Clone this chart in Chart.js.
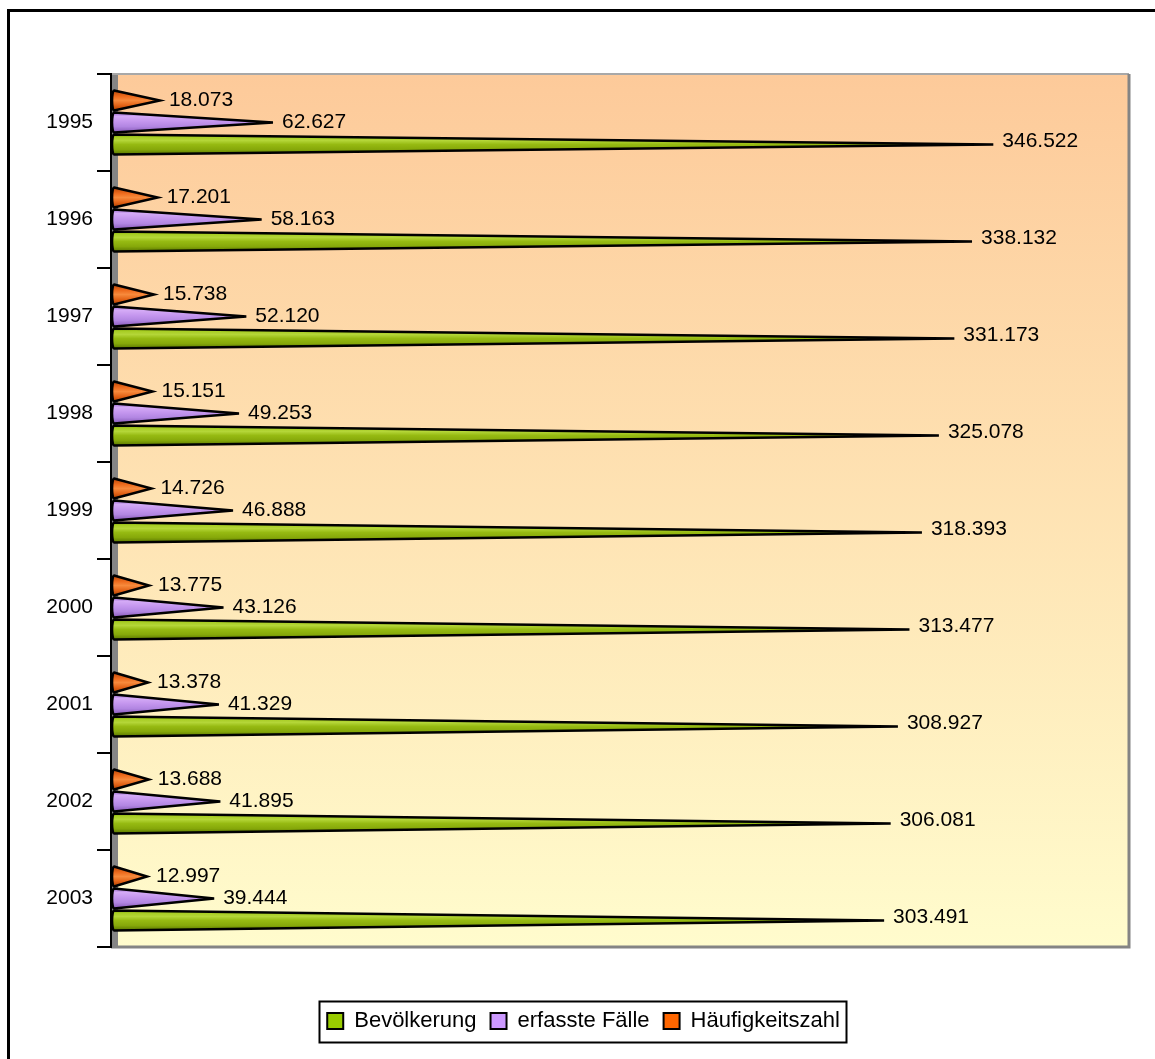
<!DOCTYPE html>
<html>
<head>
<meta charset="utf-8">
<script src="https://cdn.jsdelivr.net/npm/chart.js@4.4.1/dist/chart.umd.min.js"></script>
<style>
  html, body { margin: 0; padding: 0; background: #fff; }
  #wrap { width: 1155px; height: 1059px; }
</style>
</head>
<body>
<div id="wrap"><canvas id="chart" width="1155" height="1059"></canvas></div>
<script>
// Daten
const jahre = ['1995', '1996', '1997', '1998', '1999', '2000', '2001', '2002', '2003'];
const bevoelkerung = [346522, 338132, 331173, 325078, 318393, 313477, 308927, 306081, 303491];
const erfassteFaelle = [62627, 58163, 52120, 49253, 46888, 43126, 41329, 41895, 39444];
const haeufigkeitszahl = [18073, 17201, 15738, 15151, 14726, 13775, 13378, 13688, 12997];
// Achse beginnt knapp links von 0 (Platz für die Seitenwand)
const xMin = -1200;
const xMax = 400000;

const schrift = '"Liberation Sans", Arial, sans-serif';

// Farbverläufe der Kegel (Index = Dataset)
const kegelVerlauf = [
  [[0, '#b84606'], [0.3, '#ee6c1e'], [0.5, '#f78a3c'], [0.75, '#e26216'], [1, '#a83e00']],
  [[0, '#9a6acc'], [0.2, '#d4aaf6'], [0.45, '#c496ee'], [0.7, '#b286e2'], [1, '#8658b8']],
  [[0, '#6c8c00'], [0.12, '#a6cc22'], [0.3, '#b4d638'], [0.5, '#96ba12'], [0.75, '#86a80a'], [1, '#5a7600']]
];

function tausender(v) {
  return String(v).replace(/\B(?=(\d{3})+(?!\d))/g, '.');
}

const kegelPlugin = {
  id: 'kegel',
  beforeDraw(chart) {
    const { ctx, chartArea: a } = chart;
    ctx.save();
    ctx.fillStyle = '#fff';
    ctx.fillRect(0, 0, chart.width, chart.height);

    const bg = ctx.createLinearGradient(0, a.top, 0, a.bottom);
    bg.addColorStop(0, '#fdca9a');
    bg.addColorStop(1, '#fffccd');
    ctx.fillStyle = bg;
    ctx.fillRect(a.left, a.top, a.right - a.left, a.bottom - a.top);

    // Seitenwand
    ctx.fillStyle = '#858585';
    ctx.fillRect(a.left, a.top, 7, a.bottom - a.top);

    // Rahmen der Zeichenfläche
    ctx.strokeStyle = '#a8a8a8';
    ctx.lineWidth = 2;
    ctx.beginPath();
    ctx.moveTo(a.left, a.top);
    ctx.lineTo(a.right, a.top);
    ctx.stroke();
    ctx.strokeStyle = '#848484';
    ctx.lineWidth = 3;
    ctx.beginPath();
    ctx.moveTo(a.right, a.top);
    ctx.lineTo(a.right, a.bottom);
    ctx.lineTo(a.left, a.bottom);
    ctx.stroke();

    // äußerer Rahmen
    ctx.strokeStyle = '#000';
    ctx.lineWidth = 3;
    ctx.beginPath();
    ctx.moveTo(8.5, chart.height);
    ctx.lineTo(8.5, 10.5);
    ctx.lineTo(chart.width, 10.5);
    ctx.stroke();
    ctx.restore();
  },
  beforeDatasetDraw(chart, args) {
    const ctx = chart.ctx;
    const stops = kegelVerlauf[args.index];
    ctx.save();
    args.meta.data.forEach(bar => {
      const p = bar.getProps(['x', 'y', 'base', 'height'], true);
      const top = p.y - p.height / 2;
      const bottom = p.y + p.height / 2;
      const g = ctx.createLinearGradient(0, top, 0, bottom);
      stops.forEach(([o, c]) => g.addColorStop(o, c));
      ctx.beginPath();
      ctx.moveTo(p.base, top);
      ctx.lineTo(p.x, p.y);
      ctx.lineTo(p.base, bottom);
      ctx.ellipse(p.base, p.y, 2, p.height / 2, 0, Math.PI / 2, Math.PI * 1.5);
      ctx.closePath();
      ctx.fillStyle = g;
      ctx.fill();
      ctx.lineWidth = 2.5;
      ctx.strokeStyle = '#000';
      ctx.stroke();
    });
    ctx.restore();
    return false;
  },
  afterDatasetsDraw(chart) {
    const ctx = chart.ctx;
    ctx.save();
    ctx.font = '21px ' + schrift;
    ctx.fillStyle = '#000';
    ctx.textAlign = 'left';
    ctx.textBaseline = 'middle';
    chart.data.datasets.forEach((ds, i) => {
      const dy = i === 2 ? -3 : 0;
      chart.getDatasetMeta(i).data.forEach((bar, j) => {
        const p = bar.getProps(['x', 'y'], true);
        ctx.fillText(tausender(ds.data[j]), p.x + 9, p.y + dy);
      });
    });
    ctx.restore();
  },
  afterDraw(chart) {
    const hb = chart.legend.legendHitBoxes;
    if (!hb || !hb.length) return;
    const ctx = chart.ctx;
    const l = Math.min(...hb.map(h => h.left)) - 8;
    const r = Math.max(...hb.map(h => h.left + h.width)) + 6;
    const cy = hb[0].top + hb[0].height / 2;
    ctx.save();
    ctx.strokeStyle = '#000';
    ctx.lineWidth = 2;
    ctx.strokeRect(Math.round(l) + 0.5, Math.round(cy - 20) + 0.5, Math.round(r - l), 41);
    ctx.restore();
  }
};

new Chart(document.getElementById('chart'), {
  type: 'bar',
  data: {
    labels: jahre,
    datasets: [
      { label: 'Häufigkeitszahl', data: haeufigkeitszahl, backgroundColor: '#ff6600', borderColor: '#000', borderWidth: 2 },
      { label: 'erfasste Fälle', data: erfassteFaelle, backgroundColor: '#cc99ff', borderColor: '#000', borderWidth: 2 },
      { label: 'Bevölkerung', data: bevoelkerung, backgroundColor: '#99cc00', borderColor: '#000', borderWidth: 2 }
    ]
  },
  options: {
    indexAxis: 'y',
    responsive: false,
    animation: false,
    categoryPercentage: 0.68,
    barPercentage: 0.91,
    layout: { padding: { top: 74, right: 26, bottom: 17, left: 38 } },
    plugins: {
      tooltip: { enabled: false },
      legend: {
        position: 'bottom',
        reverse: true,
        labels: {
          boxWidth: 16,
          boxHeight: 16,
          padding: 14,
          color: '#000',
          font: { family: schrift, size: 22 }
        }
      }
    },
    scales: {
      x: {
        min: xMin,
        max: xMax,
        grid: { display: false },
        border: { display: false },
        ticks: { display: false },
        afterFit(s) { s.height = 49; }
      },
      y: {
        grid: { offset: true, drawOnChartArea: false, drawTicks: true, tickLength: 14, color: '#000', lineWidth: 2 },
        border: { display: true, color: '#000', width: 2 },
        ticks: { color: '#000', padding: 4, font: { family: schrift, size: 21 } },
        afterFit(s) { s.width = 73; }
      }
    }
  },
  plugins: [kegelPlugin]
});
</script>
</body>
</html>
